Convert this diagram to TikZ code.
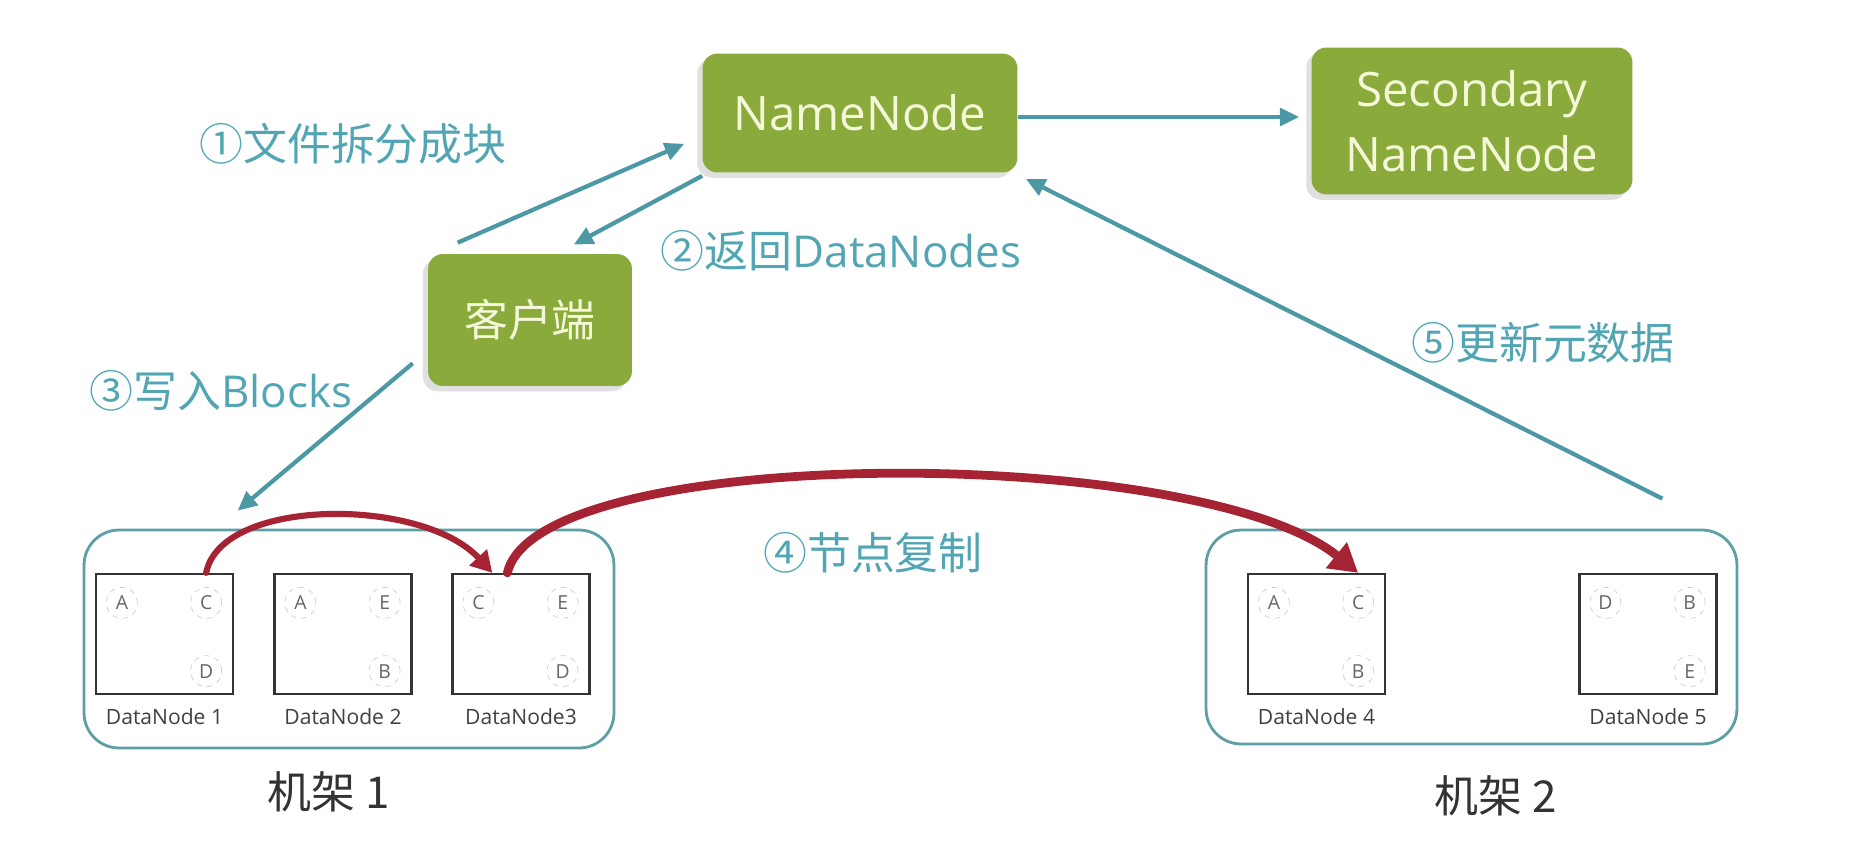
\documentclass[tikz,border=0pt]{standalone}
\usepackage{fontspec}
\setmainfont{Open Sans}
\newfontfamily\cjk{Noto Sans CJK SC}
\usetikzlibrary{arrows.meta,shadows,positioning}
\definecolor{hgreen}{HTML}{8AAA3C}
\definecolor{hpale}{HTML}{F4F8D8}
\definecolor{hteal}{HTML}{4C98A5}
\definecolor{hlabel}{HTML}{52A6B4}
\definecolor{hred}{HTML}{A52332}
\definecolor{hrack}{HTML}{5E9FA6}
\begin{document}
\begin{tikzpicture}[x=0.02cm,y=-0.02cm,
    server/.style={fill=hgreen,rounded corners=0.3cm,text=hpale,align=center,
      font=\fontsize{27}{37}\selectfont,
      drop shadow={shadow xshift=-3pt,shadow yshift=-3pt,fill=black,opacity=0.12}},
    flow/.style={draw=hteal,line width=2.4pt,-{Triangle[length=11pt,width=10pt]}},
    tag/.style={text=hlabel,font=\cjk\fontsize{25}{30}\selectfont},
    rack/.style={draw=hrack,line width=1.6pt,rounded corners=0.7cm},
    rackname/.style={text=black!80,font=\cjk\fontsize{25}{30}\selectfont},
    dnbox/.style={draw=black!80,line width=1.3pt,minimum width=2.74cm,minimum height=2.4cm},
    blk/.style={circle,draw=black!20,dashed,minimum size=0.62cm,inner sep=0pt,
      text=black!60,font=\fontsize{11}{13}\selectfont},
    dnname/.style={text=black!75,font=\fontsize{12}{14}\selectfont},
    copy/.style={draw=hred,line cap=round}]
    \useasboundingbox (0,0) rectangle (1876,852);
    \node[server,minimum width=6.3cm,minimum height=2.38cm] (name) at (860,113) {NameNode};
    \node[server,minimum width=6.42cm,minimum height=2.94cm] (second) at (1472,121) {Secondary\\NameNode};
    \node[server,minimum width=4.08cm,minimum height=2.64cm,font=\cjk\fontsize{25}{30}\selectfont] (client) at (530,320) {客户端};
    \node[rack,minimum width=10.6cm,minimum height=4.36cm] (rack1) at (349,639) {};
    \node[rack,minimum width=10.62cm,minimum height=4.28cm] (rack2) at (1471.5,637) {};
    \foreach \n/\x/\a/\b/\c/\t in {1/164.5/A/C/D/DataNode 1, 2/343/A/E/B/DataNode 2,
        3/521/C/E/D/DataNode3, 4/1316.5/A/C/B/DataNode 4, 5/1648/D/B/E/DataNode 5} {
      \node[dnbox] (dn\n) at (\x,634) {};
      \node[blk] (dn\n tl) at ([shift={(27,30)}]dn\n.north west) {\a};
      \node[blk] (dn\n tr) at ([shift={(-28,30)}]dn\n.north east) {\b};
      \node[blk] (dn\n br) at ([shift={(-28,-24)}]dn\n.south east) {\c};
      \node[dnname,below=4pt of dn\n] (dn\n name) {\t};
    }
    \node[rackname] (rack1name) at (329,792) {机架 1};
    \node[rackname] (rack2name) at (1496,796) {机架 2};
    \node[tag] (tag1) at (353,144) {①文件拆分成块};
    \node[tag] (tag2) at (841,251) {②返回{\rmfamily DataNodes}};
    \node[tag] (tag3) at (221,391) {③写入{\rmfamily Blocks}};
    \node[tag] (tag4) at (873,553) {④节点复制};
    \node[tag] (tag5) at (1543,343) {⑤更新元数据};
    \draw[flow] ([shift={(30,-11)}]client.north west) -- ([shift={(-18,-29)}]name.south west);
    \draw[flow] ([shift={(0,3)}]name.south west) -- ([shift={(146,-9)}]client.north west);
    \draw[flow] ([shift={(-15,-23)}]client.south west) -- ([shift={(155,-18)}]rack1.north west);
    \draw[flow,shorten >=0.24cm] ([shift={(0,4)}]name.east) -- ([shift={(0,4)}]name.east -| second.west);
    \draw[flow] ([shift={(-76,-30)}]rack2.north east) -- ([shift={(8,6)}]name.south east);
    \draw[copy,line width=3.5pt,-{Triangle[length=12pt,width=13pt]}] (dn1tr |- dn1.north)
      .. controls +(15,-76) and +(-70,-76) .. ([shift={(41,0)}]dn3.north west);
    \draw[copy,line width=5pt,-{Triangle[length=16pt,width=18pt]}] ([shift={(56,0)}]dn3.north west)
      .. controls +(30,-130) and +(-160,-130) .. (dn4tr |- dn4.north);
\end{tikzpicture}
\end{document}
